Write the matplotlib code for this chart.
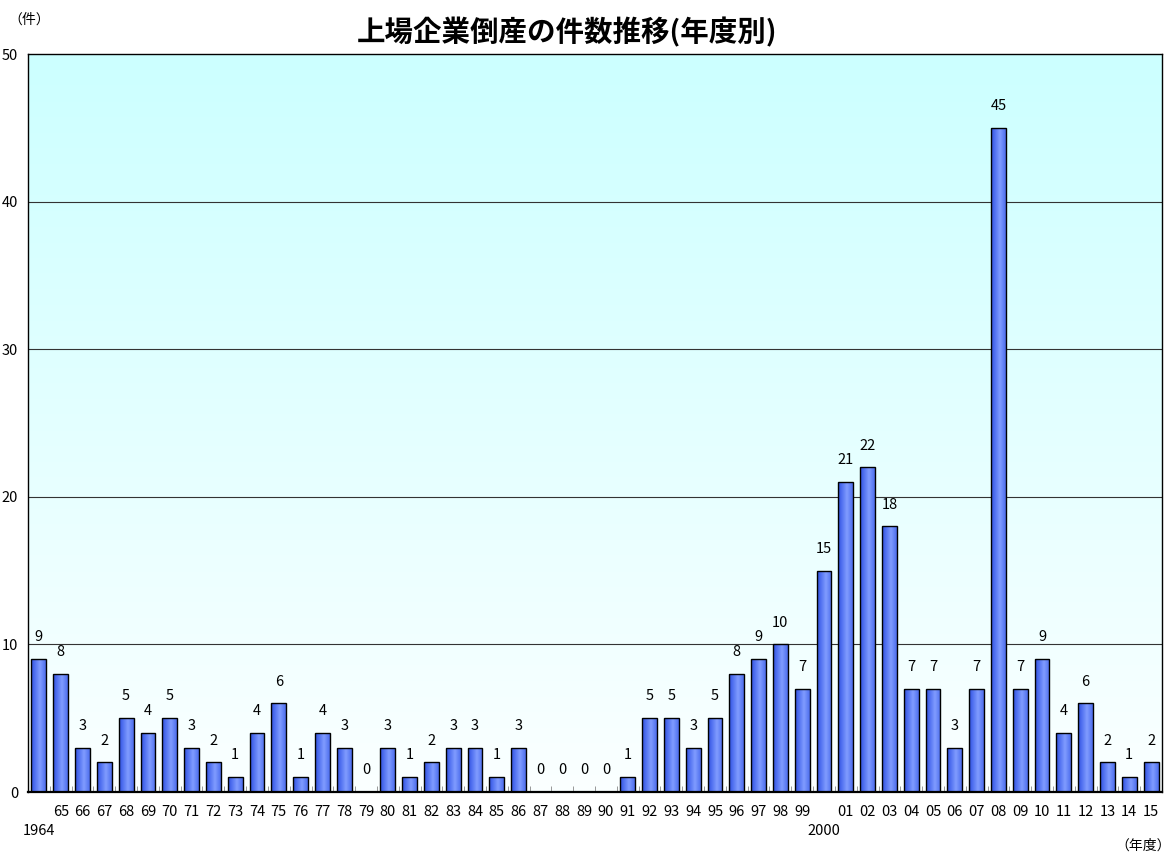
import matplotlib
matplotlib.use("Agg")
import matplotlib.pyplot as plt
import numpy as np
from matplotlib.colors import LinearSegmentedColormap

plt.rcParams['font.family'] = ['Noto Sans CJK JP', 'DejaVu Sans']

years = list(range(1964, 2016))
counts = [9, 8, 3, 2, 5, 4, 5, 3, 2, 1, 4, 6, 1, 4, 3, 0, 3, 1, 2, 3, 3, 1, 3,
          0, 0, 0, 0, 1, 5, 5, 3, 5, 8, 9, 10, 7, 15, 21, 22, 18, 7, 7, 3, 7,
          45, 7, 9, 4, 6, 2, 1, 2]
tick_labels = [""] + [f"{y % 100:02d}" for y in range(1965, 2000)] + [""] + \
              [f"{y % 100:02d}" for y in range(2001, 2016)]
second_row_labels = {1964: "1964", 2000: "2000"}
yticks = [0, 10, 20, 30, 40, 50]

fig = plt.figure(figsize=(11.72, 8.55), dpi=100)
ax = fig.add_axes([28 / 1172, 63 / 855, 1134 / 1172, 738 / 855])

n = len(years)
x = np.arange(n)

# background gradient (cyan at top, near white at bottom)
bg = np.linspace(0, 1, 256).reshape(-1, 1)
bg_cmap = LinearSegmentedColormap.from_list("bg", ["#CCFFFF", "#FBFFFF"])
ax.imshow(bg, cmap=bg_cmap, aspect='auto', extent=[-0.5, n - 0.5, 0, 50],
          origin='upper', zorder=0)

for yv in yticks[1:-1]:
    ax.axhline(yv, color='#333333', lw=0.8, zorder=1)

bar_cmap = LinearSegmentedColormap.from_list(
    "bar", [(0.0, "#3050DD"), (0.25, "#5070F0"), (0.6, "#809CFF"), (1.0, "#4E6EEE")])
grad = np.linspace(0, 1, 64).reshape(1, -1)
bars = ax.bar(x, counts, width=0.68, color='none', edgecolor='black', lw=1.0, zorder=3)
for b in bars:
    h = b.get_height()
    if h <= 0:
        continue
    x0 = b.get_x()
    w = b.get_width()
    im = ax.imshow(grad, cmap=bar_cmap, aspect='auto',
                   extent=[x0, x0 + w, 0, h], zorder=2)
    im.set_clip_path(b)
ax.set_xlim(-0.5, n - 0.5)
ax.set_ylim(0, 50)

for xi, c in zip(x, counts):
    ax.text(xi, c + 1.0, str(c), ha='center', va='bottom', fontsize=10.5, zorder=4)

ax.set_xticks(x)
ax.set_xticklabels(tick_labels, fontsize=10.5)
ax.tick_params(axis='x', which='major', length=0, pad=9)
ax.set_xticks(np.arange(-0.5, n, 1), minor=True)
ax.tick_params(axis='x', which='minor', length=4, direction='in', color='#888888')
for yr, lab in second_row_labels.items():
    ax.annotate(lab, xy=(years.index(yr), 0), xycoords=('data', 'axes fraction'),
                xytext=(0, -28), textcoords='offset points', ha='center', va='center',
                fontsize=10.5)

ax.set_yticks(yticks)
ax.set_yticklabels([str(v) for v in yticks], fontsize=10.5)
ax.tick_params(axis='y', length=0, pad=7)

for s in ax.spines.values():
    s.set_color('black')
    s.set_linewidth(1.0)
ax.spines['bottom'].set_linewidth(1.6)

fig.text(567 / 1172, 1 - 32 / 855, "上場企業倒産の件数推移(年度別)", ha='center', va='center',
         fontsize=20.5, fontweight='bold')
fig.text(8 / 1172, 1 - 20 / 855, "（件）", ha='left', va='center', fontsize=10)
fig.text(1171 / 1172, 1 - 846 / 855, "（年度）", ha='right', va='center', fontsize=10)

fig.savefig("out.png", dpi=100)
